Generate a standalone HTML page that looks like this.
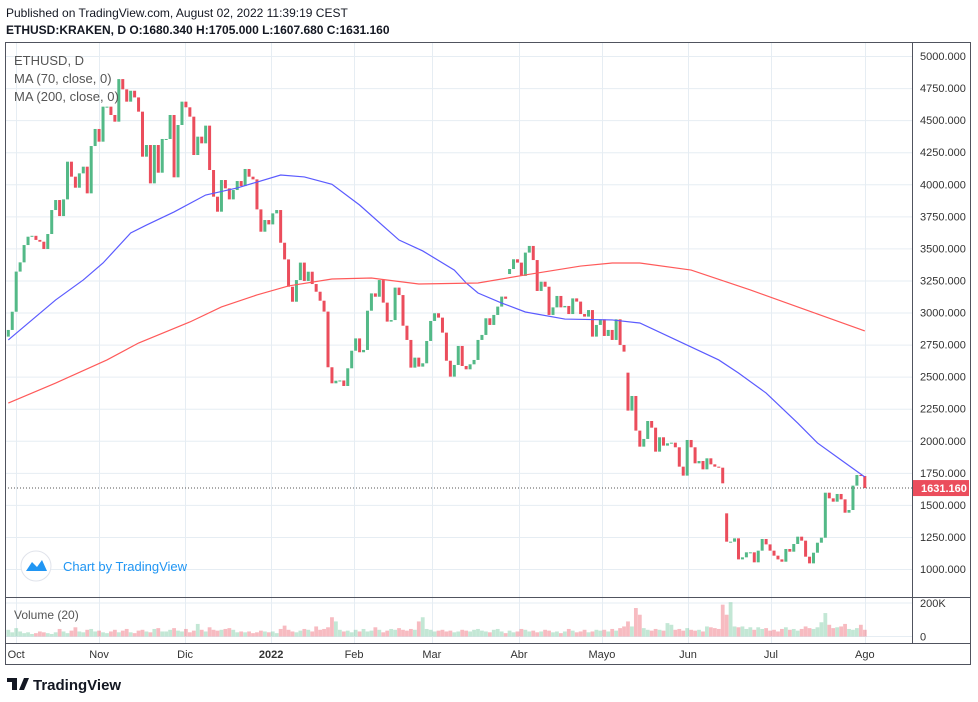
<!DOCTYPE html>
<html><head><meta charset="utf-8">
<style>
body{margin:0;background:#fff;font-family:"Liberation Sans",sans-serif;}
#wrap{position:relative;width:978px;height:702px;overflow:hidden;}
svg text{font-family:"Liberation Sans",sans-serif;}
</style></head>
<body>
<div id="wrap">
<svg id="chart" width="978" height="702">
<text x="6" y="17" font-size="12" fill="#131722">Published on TradingView.com, August 02, 2022 11:39:19 CEST</text>
<text x="6" y="34" font-size="12" font-weight="bold" fill="#131722">ETHUSD:KRAKEN, D  O:1680.340 H:1705.000 L:1607.680 C:1631.160</text>
<g id="grid"></g>
<g id="vol"></g>
<g id="candles"></g>
<g id="mas"></g>
<g id="axes"></g>
<rect x="5.5" y="42.5" width="965" height="622" fill="none" stroke="#50535e" stroke-width="1"/>
<line x1="912.5" y1="42" x2="912.5" y2="643" stroke="#50535e"/>
<line x1="5" y1="597.5" x2="970" y2="597.5" stroke="#50535e"/>
<line x1="5" y1="643.5" x2="970" y2="643.5" stroke="#50535e"/>
<text x="14" y="65" font-size="13" fill="#555">ETHUSD, D</text>
<text x="14" y="83" font-size="13" fill="#555">MA (70, close, 0)</text>
<text x="14" y="101" font-size="13" fill="#555">MA (200, close, 0)</text>
<text x="14" y="619" font-size="12" fill="#555">Volume (20)</text>
<g>
<circle cx="36" cy="566" r="15" fill="#fff" stroke="#e0e3eb"/>
<path d="M26 571 L32 562 L37 567 L42 560 L47 571 Z" fill="#2196f3"/>
<text x="63" y="571" font-size="13" fill="#2196f3">Chart by TradingView</text>
</g>
<g>
<path d="M7 678 H17 V690 H12 V682 H7 Z" fill="#131722"/>
<path d="M19 690 L24 678 H29 L24 690 Z" fill="#131722"/>
<text x="33" y="690" font-size="15" font-weight="bold" fill="#131722">TradingView</text>
</g>
</svg>
</div>
<script>
const closes=[2864,3006,3319,3391,3526,3591,3598,3566,3552,3495,
3612,3799,3877,3752,3882,4176,4059,3973,4085,4137,
3929,4298,4431,4332,4605,4605,4540,4488,4820,4740,
4644,4729,4677,4566,4215,4306,4007,4306,4090,4353,
4353,4540,4054,4462,4644,4600,4527,4228,4371,4319,
4457,4111,3903,3786,4033,3968,3882,3955,4025,3986,
4119,4059,4038,3804,3630,3721,3687,3773,3799,3544,
3414,3201,3084,3253,3389,3246,3318,3222,3162,3092,
3007,2573,2448,2468,2470,2427,2565,2702,2798,2690,
2708,3014,3149,3123,3253,3077,2929,2941,3194,3136,
2897,2786,2570,2648,2578,2604,2778,2934,2994,2960,
2843,2624,2500,2591,2739,2583,2557,2596,2630,2786,
2825,2955,2903,2981,3046,3124,3107,3339,3415,3389,
3285,3467,3519,3409,3168,3240,3201,2981,3040,3129,
3040,3051,2988,3110,3085,2988,2968,3019,2812,2903,
2947,2817,2864,2786,2947,2747,2695,2235,2349,2079,
1954,2014,2154,2102,1915,2027,1962,1980,1985,1949,
1798,1728,2006,1949,1824,1842,1777,1863,1816,1798,
1790,1668,1213,1213,1239,1075,1091,1130,1130,1052,
1143,1234,1192,1143,1104,1075,1057,1156,1135,1195,
1252,1221,1096,1044,1127,1205,1244,1595,1551,1525,
1585,1543,1439,1460,1650,1733,1725,1631];
const firstOpen=2812;
const gapIdx=[127,157,182];
const gapOpens=[3300,2531,1434];
const volumes=[40,25,50,30,20,25,15,20,30,25,
20,15,25,45,30,20,35,55,30,25,
40,45,30,35,25,20,30,40,25,35,
45,25,20,35,40,30,25,45,50,30,
30,40,50,35,30,45,25,35,75,40,
30,55,40,35,40,45,50,40,25,30,
25,30,20,25,35,30,25,30,20,45,
65,40,30,25,35,45,40,30,60,40,
45,55,115,90,40,30,35,25,40,30,
45,30,35,55,40,25,35,45,40,50,
40,35,45,40,90,115,45,40,30,35,
40,30,35,25,30,40,35,30,40,45,
35,30,25,40,45,30,20,35,25,30,
45,40,30,35,25,30,40,35,25,30,
20,30,45,35,25,30,40,25,30,40,
35,40,30,45,35,50,60,90,60,170,
130,50,40,35,45,40,35,80,70,40,
45,35,50,40,35,40,30,60,55,50,
45,190,130,205,60,55,60,45,55,40,
55,45,50,35,40,30,45,55,40,45,
35,45,60,50,45,55,85,140,70,50,
55,60,75,45,40,50,70,40];
const ma70Idx=[0,12,19,24,31,35,42,50,58,69,75,82,89,99,105,113,116,119,125,131,141,153,160,180,185,192,196,200,205,211,217];
const ma70Val=[2786,3098,3254,3386,3620,3682,3784,3916,3971,4072,4057,4000,3838,3565,3480,3331,3230,3152,3074,3004,2949,2942,2918,2630,2528,2372,2255,2138,1983,1850,1717];
const ma200Idx=[0,12,25,33,46,54,63,71,82,92,104,119,131,145,153,160,173,188,200,217];
const ma200Val=[2294,2450,2630,2762,2926,3043,3137,3207,3261,3269,3222,3230,3293,3362,3386,3386,3331,3176,3043,2856];
const priceTicks=[1000,1250,1500,1750,2000,2250,2500,2750,3000,3250,3500,3750,4000,4250,4500,4750,5000];
const monthLabels=["Oct","Nov","Dic","2022","Feb","Mar","Abr","Mayo","Jun","Jul","Ago"];
const monthIdx=[2,23,44.8,66.6,87.6,107.3,129.4,150.4,172.2,193.2,217];
const lastPrice=1631.16;

const NS="http://www.w3.org/2000/svg";
const X=i=>8.3+i*3.947;
const Y=p=>56+(5000-p)*0.12825;
const VY=v=>636.5-v*(33.5/200);
function mk(tag,attrs,parent){const e=document.createElementNS(NS,tag);for(const k in attrs)e.setAttribute(k,attrs[k]);parent.appendChild(e);return e;}
const grid=document.getElementById('grid'),axes=document.getElementById('axes');
priceTicks.forEach(p=>{
  const l=mk('line',{x1:5,x2:912,y1:Y(p)+.5,y2:Y(p)+.5,stroke:'#e6edf3'},grid);
  
  
  const t=mk('text',{x:920,y:Y(p)+4,'font-size':11,fill:'#333'},axes);
  t.textContent=p.toFixed(3);
  
  
});
monthIdx.forEach((m,k)=>{
  const x=Math.round(X(m))+.5;
  const l=mk('line',{x1:x,x2:x,y1:42,y2:643,stroke:'#e6edf3'},grid);
  
  
  const t=mk('text',{x:X(m),y:658,'font-size':11,fill:'#333','text-anchor':'middle','font-weight':monthLabels[k]==='2022'?'bold':'normal'},axes);
  t.textContent=monthLabels[k];
  
  
});
[[200,'200K'],[0,'0']].forEach(([v,s])=>{
  mk('line',{x1:5,x2:912,y1:VY(v),y2:VY(v),stroke:'#e6edf3'},grid);
  const t=mk('text',{x:920,y:VY(v)+4,'font-size':11,fill:'#333'},axes);
  t.textContent=s;
  
  
});
const cg=document.getElementById('candles'),vg=document.getElementById('vol');
closes.forEach((c,i)=>{
  let o=i===0?firstOpen:closes[i-1];
  const gi=gapIdx.indexOf(i); if(gi>=0)o=gapOpens[gi];
  const up=c>=o;
  const col=up?'#53b987':'#eb4d5c';
  const top=Y(Math.max(o,c)),bot=Y(Math.min(o,c));
  const r=mk('rect',{x:X(i)-1.5,y:top,width:3,height:Math.max(1,bot-top),fill:col},cg);
  
  
  const vr=mk('rect',{x:X(i)-1.9,y:VY(volumes[i]),width:3.8,height:VY(0)-VY(volumes[i]),fill:up?'rgba(83,185,135,0.35)':'rgba(235,77,92,0.38)'},vg);
  
  
});
const mg=document.getElementById('mas');
function line(idx,val,col,name){
  const p=mk('polyline',{points:idx.map((ii,k)=>X(ii)+','+Y(val[k])).join(' '),fill:'none',stroke:col,'stroke-width':1.2},mg);
  
  
}
line(ma70Idx,ma70Val,'#5b5bff','ma70-line');
line(ma200Idx,ma200Val,'#ff5a5a','ma200-line');
const ly=Y(lastPrice);
const dl=mk('line',{x1:5,x2:912,y1:ly,y2:ly,stroke:'#555','stroke-dasharray':'1,2'},mg);


const lb=mk('rect',{x:913,y:ly-8,width:56,height:16,fill:'#eb4d5c'},axes);


const lt=mk('text',{x:921,y:ly+4,'font-size':11,'font-weight':'bold',fill:'#fff'},axes);
lt.textContent=lastPrice.toFixed(3);


</script>
</body></html>
